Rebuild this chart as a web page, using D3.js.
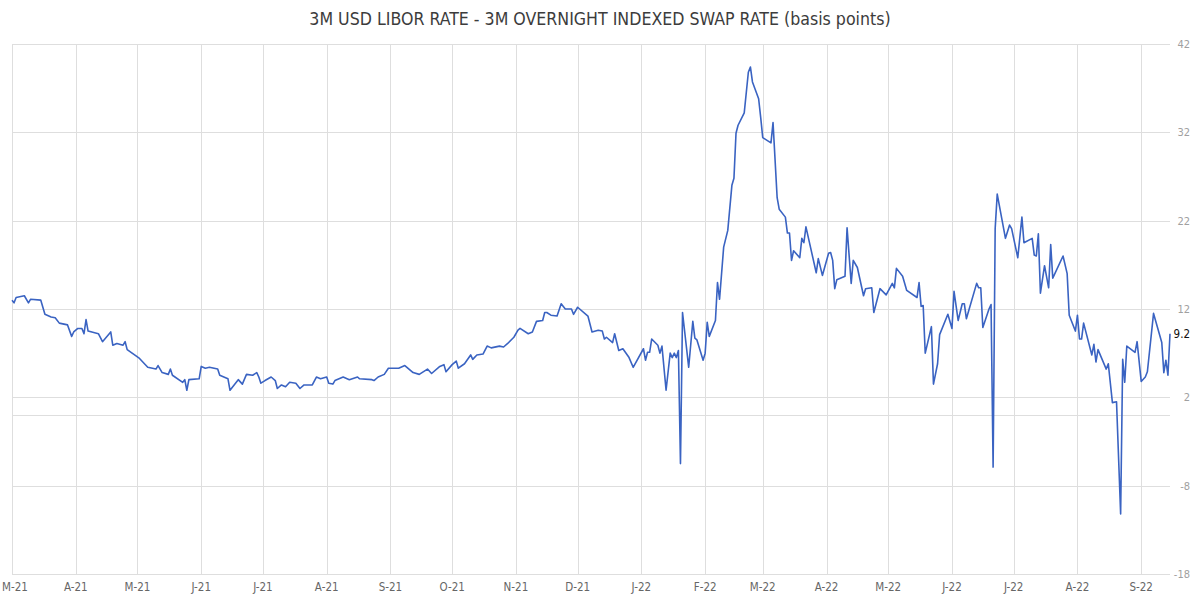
<!DOCTYPE html>
<html>
<head>
<meta charset="utf-8">
<script src="https://cdn.jsdelivr.net/npm/d3@7"></script>
<style>
  body { margin: 0; background: #fff; }
  svg { display: block; font-family: "DejaVu Sans Condensed", "DejaVu Sans", sans-serif; }
  .grid line { stroke: #dedede; stroke-width: 1; }
  .xlab { fill: #666; font-size: 11.5px; }
  .ylab { fill: #a0a0a0; font-size: 11px; }
</style>
</head>
<body>
<svg width="1200" height="601"></svg>
<script>
const title = "3M USD LIBOR RATE - 3M OVERNIGHT INDEXED SWAP RATE (basis points)"

// spread, bp
const dates = [
  "2021-03-01","2021-03-02","2021-03-03","2021-03-07","2021-03-09","2021-03-10","2021-03-15","2021-03-17","2021-03-20","2021-03-22",
  "2021-03-24","2021-03-28","2021-03-30","2021-03-31","2021-04-02","2021-04-04","2021-04-05","2021-04-06","2021-04-07","2021-04-12",
  "2021-04-14","2021-04-18","2021-04-19","2021-04-21","2021-04-24","2021-04-25","2021-04-26","2021-05-02","2021-05-06","2021-05-10",
  "2021-05-11","2021-05-13","2021-05-16","2021-05-17","2021-05-18","2021-05-23","2021-05-24","2021-05-25","2021-05-26","2021-05-31",
  "2021-06-01","2021-06-03","2021-06-05","2021-06-09","2021-06-10","2021-06-14","2021-06-15","2021-06-17","2021-06-19","2021-06-21",
  "2021-06-23","2021-06-26","2021-06-28","2021-06-29","2021-06-30","2021-07-02","2021-07-05","2021-07-07","2021-07-08","2021-07-10",
  "2021-07-12","2021-07-14","2021-07-17","2021-07-19","2021-07-21","2021-07-25","2021-07-27","2021-07-29","2021-08-01","2021-08-02",
  "2021-08-04","2021-08-05","2021-08-09","2021-08-12","2021-08-16","2021-08-17","2021-08-23","2021-08-24","2021-08-26","2021-08-29",
  "2021-08-31","2021-09-05","2021-09-08","2021-09-12","2021-09-15","2021-09-19","2021-09-21","2021-09-25","2021-09-27","2021-09-28",
  "2021-10-01","2021-10-03","2021-10-04","2021-10-07","2021-10-10","2021-10-11","2021-10-13","2021-10-16","2021-10-18","2021-10-20",
  "2021-10-24","2021-10-26","2021-10-28","2021-10-31","2021-11-02","2021-11-03","2021-11-07","2021-11-09","2021-11-11","2021-11-14",
  "2021-11-15","2021-11-16","2021-11-18","2021-11-21","2021-11-23","2021-11-25","2021-11-28","2021-11-29","2021-12-01","2021-12-06",
  "2021-12-08","2021-12-11","2021-12-13","2021-12-14","2021-12-15","2021-12-18","2021-12-19","2021-12-21","2021-12-23","2021-12-26",
  "2021-12-28","2022-01-02","2022-01-03","2022-01-04","2022-01-05","2022-01-06","2022-01-09","2022-01-10","2022-01-11","2022-01-13",
  "2022-01-15","2022-01-16","2022-01-17","2022-01-18","2022-01-19","2022-01-20","2022-01-21","2022-01-24","2022-01-26","2022-01-27",
  "2022-01-28","2022-01-31","2022-02-01","2022-02-02","2022-02-03","2022-02-06","2022-02-07","2022-02-08","2022-02-10","2022-02-12",
  "2022-02-14","2022-02-15","2022-02-16","2022-02-17","2022-02-20","2022-02-22","2022-02-23","2022-02-24","2022-02-27","2022-02-28",
  "2022-03-01","2022-03-05","2022-03-06","2022-03-08","2022-03-09","2022-03-12","2022-03-13","2022-03-14","2022-03-15","2022-03-16",
  "2022-03-19","2022-03-20","2022-03-21","2022-03-22","2022-03-27","2022-03-28","2022-03-30","2022-04-02","2022-04-03","2022-04-04",
  "2022-04-05","2022-04-06","2022-04-10","2022-04-11","2022-04-13","2022-04-14","2022-04-16","2022-04-19","2022-04-20","2022-04-23",
  "2022-04-24","2022-04-27","2022-04-30","2022-05-03","2022-05-04","2022-05-05","2022-05-08","2022-05-10","2022-05-15","2022-05-16",
  "2022-05-17","2022-05-18","2022-05-19","2022-05-22","2022-05-23","2022-05-25","2022-05-26","2022-05-30","2022-06-01","2022-06-02",
  "2022-06-04","2022-06-06","2022-06-07","2022-06-08","2022-06-13","2022-06-14","2022-06-15","2022-06-16","2022-06-19","2022-06-20",
  "2022-06-21","2022-06-22","2022-06-23","2022-06-27","2022-06-29","2022-06-30","2022-07-03","2022-07-05","2022-07-06","2022-07-10",
  "2022-07-11","2022-07-12","2022-07-13","2022-07-14","2022-07-16","2022-07-18","2022-07-19","2022-07-20","2022-07-25","2022-07-27",
  "2022-07-28","2022-07-31","2022-08-01","2022-08-02","2022-08-03","2022-08-04","2022-08-08","2022-08-09","2022-08-10","2022-08-11",
  "2022-08-15","2022-08-16","2022-08-18","2022-08-20","2022-08-22","2022-08-23","2022-08-24","2022-08-25","2022-08-29","2022-08-30",
  "2022-09-01","2022-09-03","2022-09-04","2022-09-07","2022-09-11","2022-09-12","2022-09-13","2022-09-14","2022-09-15"
]
const spread = [
  13.0,12.7,13.3,13.5,12.7,13.1,13.0,11.4,11.1,11.0,
  10.4,10.2,8.9,9.4,9.8,9.8,9.2,10.8,9.5,9.2,
  8.3,9.4,7.9,8.1,7.9,8.3,7.4,6.4,5.4,5.2,
  5.6,4.8,4.6,5.2,4.5,3.7,4.0,2.8,4.0,4.1,
  5.5,5.3,5.4,5.2,4.5,4.1,2.8,3.4,4.0,3.5,
  4.6,4.5,4.8,4.3,3.6,3.9,4.3,3.9,3.0,3.4,
  3.2,3.7,3.6,3.0,3.4,3.4,4.3,4.1,4.3,3.6,
  3.5,3.9,4.3,4.0,4.3,4.1,4.0,3.9,4.3,4.6,
  5.3,5.3,5.6,4.8,4.6,5.2,4.7,5.5,5.7,4.9,
  5.7,6.1,5.3,5.8,6.8,6.3,6.8,6.9,7.8,7.6,
  7.8,7.7,8.1,8.8,9.6,9.8,9.2,9.4,10.6,10.7,
  11.6,11.6,11.3,11.2,12.6,12.0,12.0,11.4,12.2,11.2,
  9.4,9.6,9.5,8.6,8.8,8.2,9.2,7.3,7.5,6.5,
  5.4,7.5,6.2,7.1,7.1,8.6,7.9,7.0,7.8,2.8,
  7.0,6.5,7.0,6.5,7.3,-5.5,11.6,5.4,10.6,8.7,
  8.5,6.2,7.0,10.5,8.9,10.7,15.0,13.1,19.0,20.9,
  26.0,26.8,31.9,32.8,34.2,38.8,39.4,37.7,35.8,33.7,
  31.4,30.8,33.1,24.6,23.3,22.4,20.6,20.6,17.5,18.6,
  17.8,20.0,19.5,21.3,16.1,17.7,15.8,18.3,18.4,17.5,
  14.3,15.3,15.7,21.2,14.9,17.5,16.7,13.5,14.3,14.4,
  11.6,14.3,13.6,14.9,14.4,16.6,15.7,14.1,13.3,15.0,
  12.3,12.4,7.0,10.0,3.5,5.8,9.1,11.4,9.8,14.0,
  10.7,12.6,12.6,10.9,14.9,14.4,14.4,9.9,12.0,12.5,
  -5.9,21.1,25.0,20.0,21.5,21.1,17.8,22.4,19.5,20.0,
  18.1,18.0,20.5,13.8,16.9,14.4,19.3,15.5,18.0,16.0,
  11.3,9.5,11.3,8.6,8.6,10.4,6.8,8.0,6.0,7.4,
  5.2,5.8,1.4,1.5,-11.2,6.3,3.7,7.8,7.1,8.3,
  3.8,4.3,4.9,11.5,8.2,4.8,6.2,4.5,9.2
]

const monthTicks = ["2021-03-01","2021-04-01","2021-05-01","2021-06-01","2021-07-01","2021-08-01","2021-09-01",
  "2021-10-01","2021-11-01","2021-12-01","2022-01-01","2022-02-01","2022-03-01","2022-04-01","2022-05-01",
  "2022-06-01","2022-07-01","2022-08-01","2022-09-01"]
const monthLabels = ["M-21","A-21","M-21","J-21","J-21","A-21","S-21","O-21","N-21","D-21",
  "J-22","F-22","M-22","A-22","M-22","J-22","J-22","A-22","S-22"]
const yTicks = [42, 32, 22, 12, 2, -8, -18]
const lastLabel = "9.2"

const parse = d3.timeParse("%Y-%m-%d")
const data = dates.map((d, i) => ({date: parse(d), value: spread[i]}))

const svg = d3.select("svg")

const x = d3.scaleTime()
  .domain([parse("2021-03-01"), parse("2022-09-15")])
  .range([12, 1170])

const y = d3.scaleLinear()
  .domain([-18, 42])
  .range([574, 44])

svg.append("text")
  .attr("x", 600)
  .attr("y", 25)
  .attr("text-anchor", "middle")
  .attr("fill", "#3c3c3c")
  .style("font-size", "17.6px")
  .text(title)

const grid = svg.append("g").attr("class", "grid")

grid.selectAll("line.h")
  .data(yTicks.concat([0]))
  .enter()
  .append("line")
  .attr("class", "h")
  .attr("x1", 12)
  .attr("x2", 1170)
  .attr("y1", d => Math.round(y(d)) + 0.5)
  .attr("y2", d => Math.round(y(d)) + 0.5)

grid.selectAll("line.v")
  .data(monthTicks)
  .enter()
  .append("line")
  .attr("class", "v")
  .attr("x1", d => Math.round(x(parse(d))) + 0.5)
  .attr("x2", d => Math.round(x(parse(d))) + 0.5)
  .attr("y1", 44)
  .attr("y2", 574)

// first label would run off the left edge, keep it inside
svg.append("g")
  .selectAll("text")
  .data(monthTicks)
  .enter()
  .append("text")
  .attr("class", "xlab")
  .attr("x", d => Math.max(x(parse(d)), 15))
  .attr("y", 591)
  .attr("text-anchor", "middle")
  .text((d, i) => monthLabels[i])

svg.append("g")
  .selectAll("text")
  .data(yTicks)
  .enter()
  .append("text")
  .attr("class", "ylab")
  .attr("x", 1190)
  .attr("y", d => y(d) + 4)
  .attr("text-anchor", "end")
  .text(d => d)

const line = d3.line()
  .x(d => x(d.date))
  .y(d => y(d.value))

svg.append("path")
  .datum(data)
  .attr("fill", "none")
  .attr("stroke", "#3a63c2")
  .attr("stroke-width", 1.6)
  .attr("stroke-linejoin", "round")
  .attr("d", line)

const last = data[data.length - 1]
svg.append("text")
  .attr("x", 1190)
  .attr("y", y(last.value) + 4)
  .attr("text-anchor", "end")
  .attr("fill", "#111")
  .style("font-size", "11.5px")
  .text(lastLabel)
</script>
</body>
</html>
